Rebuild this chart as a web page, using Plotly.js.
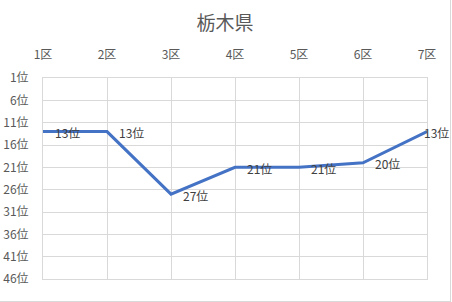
<!DOCTYPE html>
<html>
<head>
<meta charset="utf-8">
<script src="https://cdn.plot.ly/plotly-3.0.1.min.js"></script>
<style>
html,body{margin:0;padding:0;background:#fff;}
#wrap{width:450px;height:301px;border-right:1px solid #d9d9d9;border-bottom:1px solid #d9d9d9;}
#chart{width:450px;height:301px;}
</style>
</head>
<body>
<div id="wrap"><div id="chart"></div></div>
<script>
const categories = ["1区","2区","3区","4区","5区","6区","7区"];
const ranks = [13, 13, 27, 21, 21, 20, 13];
const rankTicks = [1, 6, 11, 16, 21, 26, 31, 36, 41, 46];
const rankTickLabels = rankTicks.map(v => v + "位");
const dataLabels = ranks.map(v => v + "位");
const chartTitle = "栃木県";

const FONT = '"Noto Sans CJK JP", "Noto Sans", sans-serif';
const GRID = '#d9d9d9';
const TXT = '#595959';

const trace = {
  x: categories,
  y: ranks,
  type: 'scatter',
  mode: 'lines',
  line: {color: '#4472C4', width: 3},
  cliponaxis: false,
  hoverinfo: 'skip'
};

const labelAnnotations = categories.map((c, i) => ({
  x: c, y: ranks[i], xref: 'x', yref: 'y',
  text: dataLabels[i], showarrow: false,
  xanchor: 'left', yanchor: 'middle',
  xshift: i === categories.length - 1 ? -5 : 10, yshift: -1,
  font: {family: FONT, size: 12, color: '#404040'}
}));

const layout = {
  width: 450, height: 301,
  margin: {l: 43, r: 23, t: 78, b: 22},
  paper_bgcolor: '#fff', plot_bgcolor: '#fff',
  showlegend: false,
  font: {family: FONT, size: 12, color: TXT},
  title: {text: chartTitle, font: {family: FONT, size: 19, color: TXT},
          x: 0.5, xanchor: 'center', y: 1 - 23/301, yanchor: 'middle', yref: 'container'},
  annotations: labelAnnotations,
  xaxis: {
    type: 'category', side: 'top', range: [0, categories.length - 1],
    showgrid: true, gridcolor: GRID, gridwidth: 1,
    showline: true, linecolor: GRID, linewidth: 1, mirror: true,
    zeroline: false, ticks: '',
    tickfont: {family: FONT, size: 12, color: TXT},
    ticklabelstandoff: 13,
    fixedrange: true
  },
  xaxis2: {
    overlaying: 'x', anchor: 'y', side: 'bottom', type: 'linear',
    range: [0, categories.length - 1],
    tickmode: 'array', tickvals: categories.map((c, i) => i),
    showticklabels: false, ticks: 'outside', ticklen: 5, tickcolor: GRID, tickwidth: 1,
    showgrid: false, zeroline: false, showline: false
  },
  yaxis: {
    range: [46, 1], tickmode: 'array', tickvals: rankTicks, ticktext: rankTickLabels,
    showgrid: true, gridcolor: GRID, gridwidth: 1,
    showline: true, linecolor: GRID, linewidth: 1, mirror: true,
    zeroline: false, ticks: '',
    tickfont: {family: FONT, size: 12, color: TXT},
    ticklabelstandoff: 11,
    fixedrange: true
  }
};

Plotly.newPlot('chart', [trace], layout, {staticPlot: true, displayModeBar: false});
</script>
</body>
</html>
